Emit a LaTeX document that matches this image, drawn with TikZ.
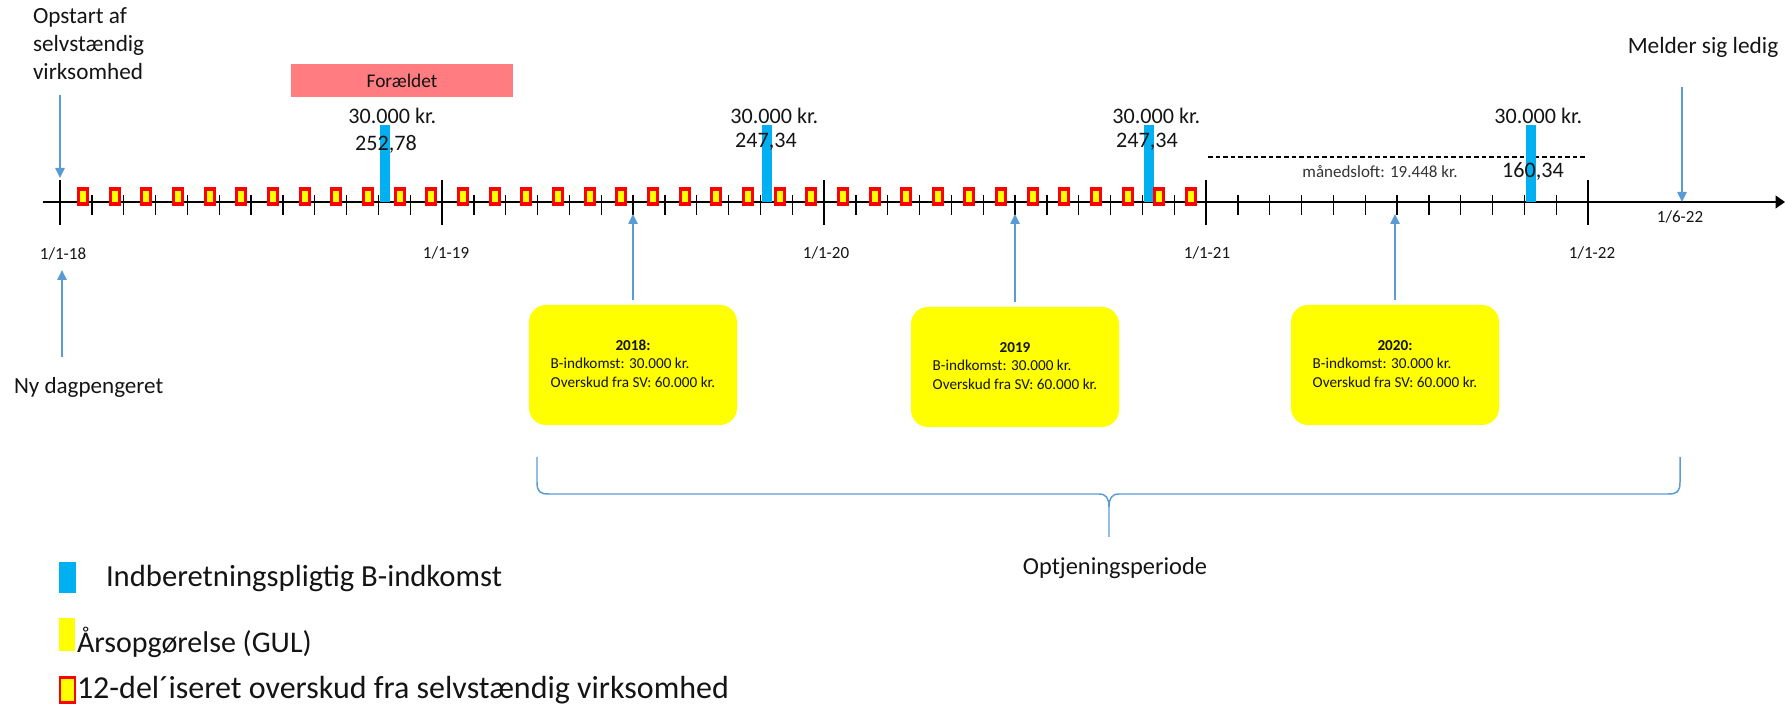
\documentclass[tikz,border=0pt]{standalone}
\usepackage{fontspec}
\setmainfont{Carlito}
\usetikzlibrary{arrows.meta}
\definecolor{barblue}{HTML}{00B0F0}
\definecolor{arrblue}{HTML}{5B9BD5}
\definecolor{salmon}{HTML}{FF7C80}
\definecolor{gul}{HTML}{FFFF00}
\definecolor{roed}{HTML}{FF0000}
\definecolor{txt}{HTML}{141414}
\begin{document}
\begin{tikzpicture}[x=0.75pt,y=-0.75pt,
  every node/.style={inner sep=0pt, outer sep=0pt, text=txt},
  arr/.style={draw=arrblue, line width=1.1pt, -{Triangle[length=7.5pt,width=7pt]}},
  axisline/.style={draw=black, line width=1.3pt, -{Triangle[length=7pt,width=9.5pt]}},
  smalltick/.style={draw=black, line width=1pt},
  bigtick/.style={draw=black, line width=1.1pt},
  bar/.style={fill=barblue, minimum width=7.5pt, minimum height=57.75pt},
  sq/.style={fill=roed, minimum width=9pt, minimum height=14.25pt,
    path picture={\fill[gul] ([shift={(-2.25pt,-4.1pt)}]path picture bounding box.center)
      rectangle ([shift={(2.25pt,4.1pt)}]path picture bounding box.center);}},
  yb/.style={fill=gul, rounded corners=12.75pt, minimum width=156pt, minimum height=90pt,
    font=\fontsize{11.4}{13.9}\selectfont},
  lbl/.style={font=\fontsize{16.6}{19}\selectfont},
  datelbl/.style={font=\fontsize{12.75}{15}\selectfont},
  big/.style={font=\fontsize{17.4}{21}\selectfont},
  legtxt/.style={anchor=west},
  bracepath/.style={draw=arrblue, line width=1.1pt}
]
\useasboundingbox (0,0) rectangle (1785,705);

% axis
\coordinate (axL) at (43,202);
\coordinate (axR) at (1785,202);
\draw[axisline] (axL) -- (axR);

% ticks
\foreach \n in {1,...,47} {
  \pgfmathsetmacro\xx{60+\n*31.833}
  \coordinate (tk\n) at (\xx,202);
  \draw[smalltick] (\xx,195) -- (\xx,215);
}
\foreach \n in {0,12,24,36,48} {
  \pgfmathsetmacro\xx{60+\n*31.833}
  \coordinate (tk\n) at (\xx,202);
  \draw[bigtick] (\xx,180) -- (\xx,225);
}

% monthly cap
\coordinate (dl) at (1208,157);
\coordinate (dr) at (1587,157);
\draw[line width=0.8pt, dash pattern=on 3.4pt off 2.3pt] (dl) -- (dr);
\node[font=\fontsize{12.75}{15}\selectfont, text=black!80] (loft) at (1380,172) {månedsloft: 19.448 kr.};

% B-income bars
\foreach \i/\n in {1/10,2/22,3/34,4/46} {
  \pgfmathsetmacro\xx{60+\n*31.833+7}
  \node[bar] (bar\i) at (\xx,163.5) {};
  \pgfmathsetmacro\lx{\xx+7}
  \node[lbl] (kr\i) at (\lx,116) {30.000 kr.};
}
\node[lbl] (v1) at (386,144) {252,78};
\node[lbl] (v2) at (766,142) {247,34};
\node[lbl] (v3) at (1147,142) {247,34};
\node[lbl] (v4) at (1533,171) {160,34};

% monthly self-employed profit markers
\foreach \k in {0,...,35} {
  \pgfmathsetmacro\xx{83+\k*31.66}
  \node[sq] (rb\k) at (\xx,196.5) {};
}

% date labels
\node[datelbl] (d18) at (63,254) {1/1-18};
\node[datelbl] (d19) at (446,253) {1/1-19};
\node[datelbl] (d20) at (826,253) {1/1-20};
\node[datelbl] (d21) at (1207,253) {1/1-21};
\node[datelbl] (d22) at (1592,253) {1/1-22};
\node[datelbl] (d622) at (1680,217) {1/6-22};

% Foraeldet
\node[fill=salmon, minimum width=166.5pt, minimum height=24.75pt,
  font=\fontsize{14.5}{17}\selectfont] (forael) at (402,80.5) {Forældet};

% top texts and arrows
\node[big, align=left, anchor=west] (opstart) at (33,44) {Opstart af\\selvstændig\\virksomhed};
\coordinate (a1s) at (60,95);
\draw[arr] (a1s) -- (tk0 |- 0,178);

\node[font=\fontsize{17.3}{21}\selectfont, anchor=west] (ny) at (14,387) {Ny dagpengeret};
\coordinate (a2s) at (62,357);
\coordinate (a2e) at (62,270);
\draw[arr] (a2s) -- (a2e);

\node[font=\fontsize{17.5}{21}\selectfont] (melder) at (1703,47) {Melder sig ledig};
\coordinate (a3s) at (1682,87);
\coordinate (a3e) at (1682,202);
\draw[arr] (a3s) -- (a3e);

% yearly statements
\node[yb] (b18) at (633,365) {\begin{tabular}{@{}l@{}}\multicolumn{1}{@{}c@{}}{\textbf{2018:}}\\B-indkomst: 30.000 kr.\\Overskud fra SV: 60.000 kr.\end{tabular}};
\node[yb] (b19) at (1015,367) {\begin{tabular}{@{}l@{}}\multicolumn{1}{@{}c@{}}{\textbf{2019}}\\B-indkomst: 30.000 kr.\\Overskud fra SV: 60.000 kr.\end{tabular}};
\node[yb] (b20) at (1395,365) {\begin{tabular}{@{}l@{}}\multicolumn{1}{@{}c@{}}{\textbf{2020:}}\\B-indkomst: 30.000 kr.\\Overskud fra SV: 60.000 kr.\end{tabular}};
\foreach \b/\t in {b18/tk18,b19/tk30,b20/tk42} {
  \draw[arr] ([yshift=3.75pt]\b.north) -- (\b.north |- 0,214);
}

% brace
\coordinate (brL) at (537,457);
\coordinate (brR) at (1680,457);
\coordinate (brT) at (1109,537);
\draw[bracepath] (brL) -- (537,482) .. controls (537,492) and (540,494) .. (549,494)
  -- (1099,494) .. controls (1106,494) and (1109,498) .. (1109,507) -- (brT);
\draw[bracepath] (1109,507) .. controls (1109,498) and (1112,494) .. (1119,494)
  -- (1668,494) .. controls (1677,494) and (1680,492) .. (1680,482) -- (brR);
\node[font=\fontsize{18.3}{22}\selectfont] (optj) at (1115,568) {Optjeningsperiode};

% legend
\node[fill=barblue, minimum width=12.75pt, minimum height=23.25pt] (lg1) at (67.5,577.5) {};
\node[legtxt, font=\fontsize{23}{27}\selectfont] (lt1) at (106,578) {Indberetningspligtig B-indkomst};
\node[fill=gul, minimum width=12pt, minimum height=24.75pt] (lg2) at (67,634.5) {};
\node[legtxt, font=\fontsize{22.5}{27}\selectfont] (lt2) at (77,642) {Årsopgørelse (GUL)};
\node[draw=roed, fill=gul, line width=1.8pt, minimum width=11pt, minimum height=19pt] (lg3) at (67.5,690) {};
\node[legtxt, font=\fontsize{24}{28}\selectfont] (lt3) at (77,690) {12-del´iseret overskud fra selvstændig virksomhed};
\end{tikzpicture}
\end{document}
